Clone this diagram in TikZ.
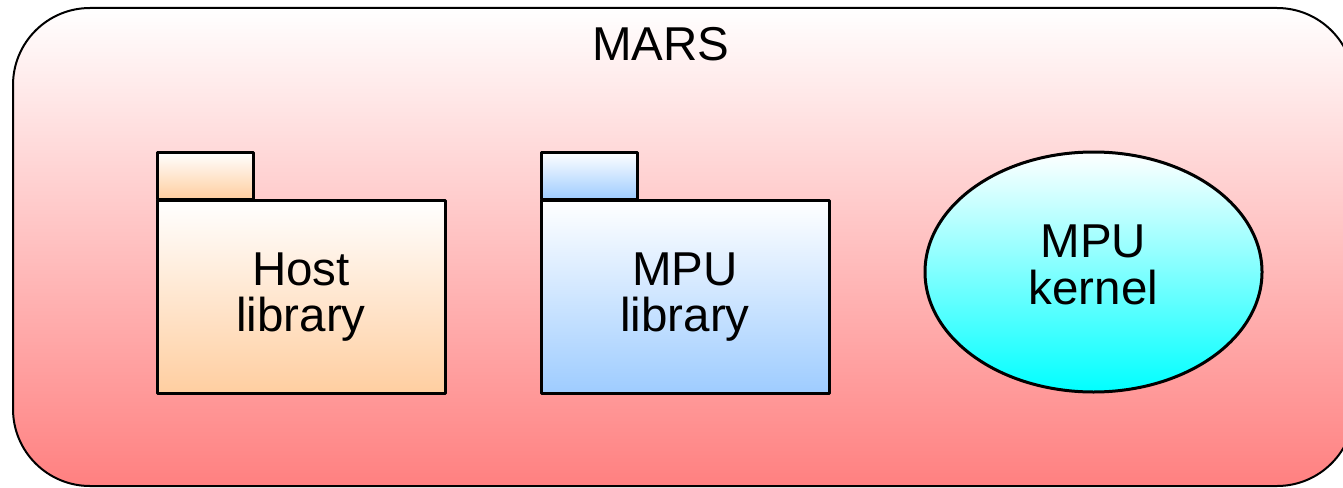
\documentclass[tikz,border=0pt]{standalone}
\usepackage{fontspec}
\setmainfont{Liberation Sans}
\usetikzlibrary{shapes.geometric}
\definecolor{marsbot}{RGB}{255,128,128}
\definecolor{hostbot}{RGB}{255,206,160}
\definecolor{mpubot}{RGB}{158,204,255}
\definecolor{kernbot}{RGB}{0,255,255}
\tikzset{
  lbl/.style={font=\fontsize{47.5}{46.5}\selectfont, align=center, text=black},
  pkgbody/.style={draw=black, line width=3pt, rectangle, minimum width=288pt, minimum height=193pt, inner sep=0pt, line join=round},
  pkgtab/.style={draw=black, line width=3pt, rectangle, minimum width=96pt, minimum height=47pt, inner sep=0pt, line join=round},
}
\begin{document}
\begin{tikzpicture}[x=1pt,y=-1pt]
\useasboundingbox (0,0) rectangle (1343,487);
\node[draw=black, line width=2pt, rounded corners=77pt, rectangle, minimum width=1341pt, minimum height=478pt, inner sep=0pt, top color=white, bottom color=marsbot] (mars) at (683.5,247) {};
\node[lbl, anchor=base] (title) at (661,60) {MARS};
% Host library package
\node[pkgtab, top color=white, bottom color=hostbot] (hosttab) at (205,175.5) {};
\node[pkgbody, lbl, top color=white, bottom color=hostbot] (host) at (301,297) {Host\\library};
% MPU library package
\node[pkgtab, top color=white, bottom color=mpubot] (mputab) at (589,175.5) {};
\node[pkgbody, lbl, top color=white, bottom color=mpubot] (mpu) at (685,297) {MPU\\library};
% MPU kernel
\node[ellipse, draw=black, line width=3pt, minimum width=337pt, minimum height=240pt, inner sep=0pt, top color=white, bottom color=kernbot] (kernel) at (1093.5,272) {};
\node[lbl] (kerneltext) at (1093.5,265) {MPU\\kernel};
\end{tikzpicture}
\end{document}
